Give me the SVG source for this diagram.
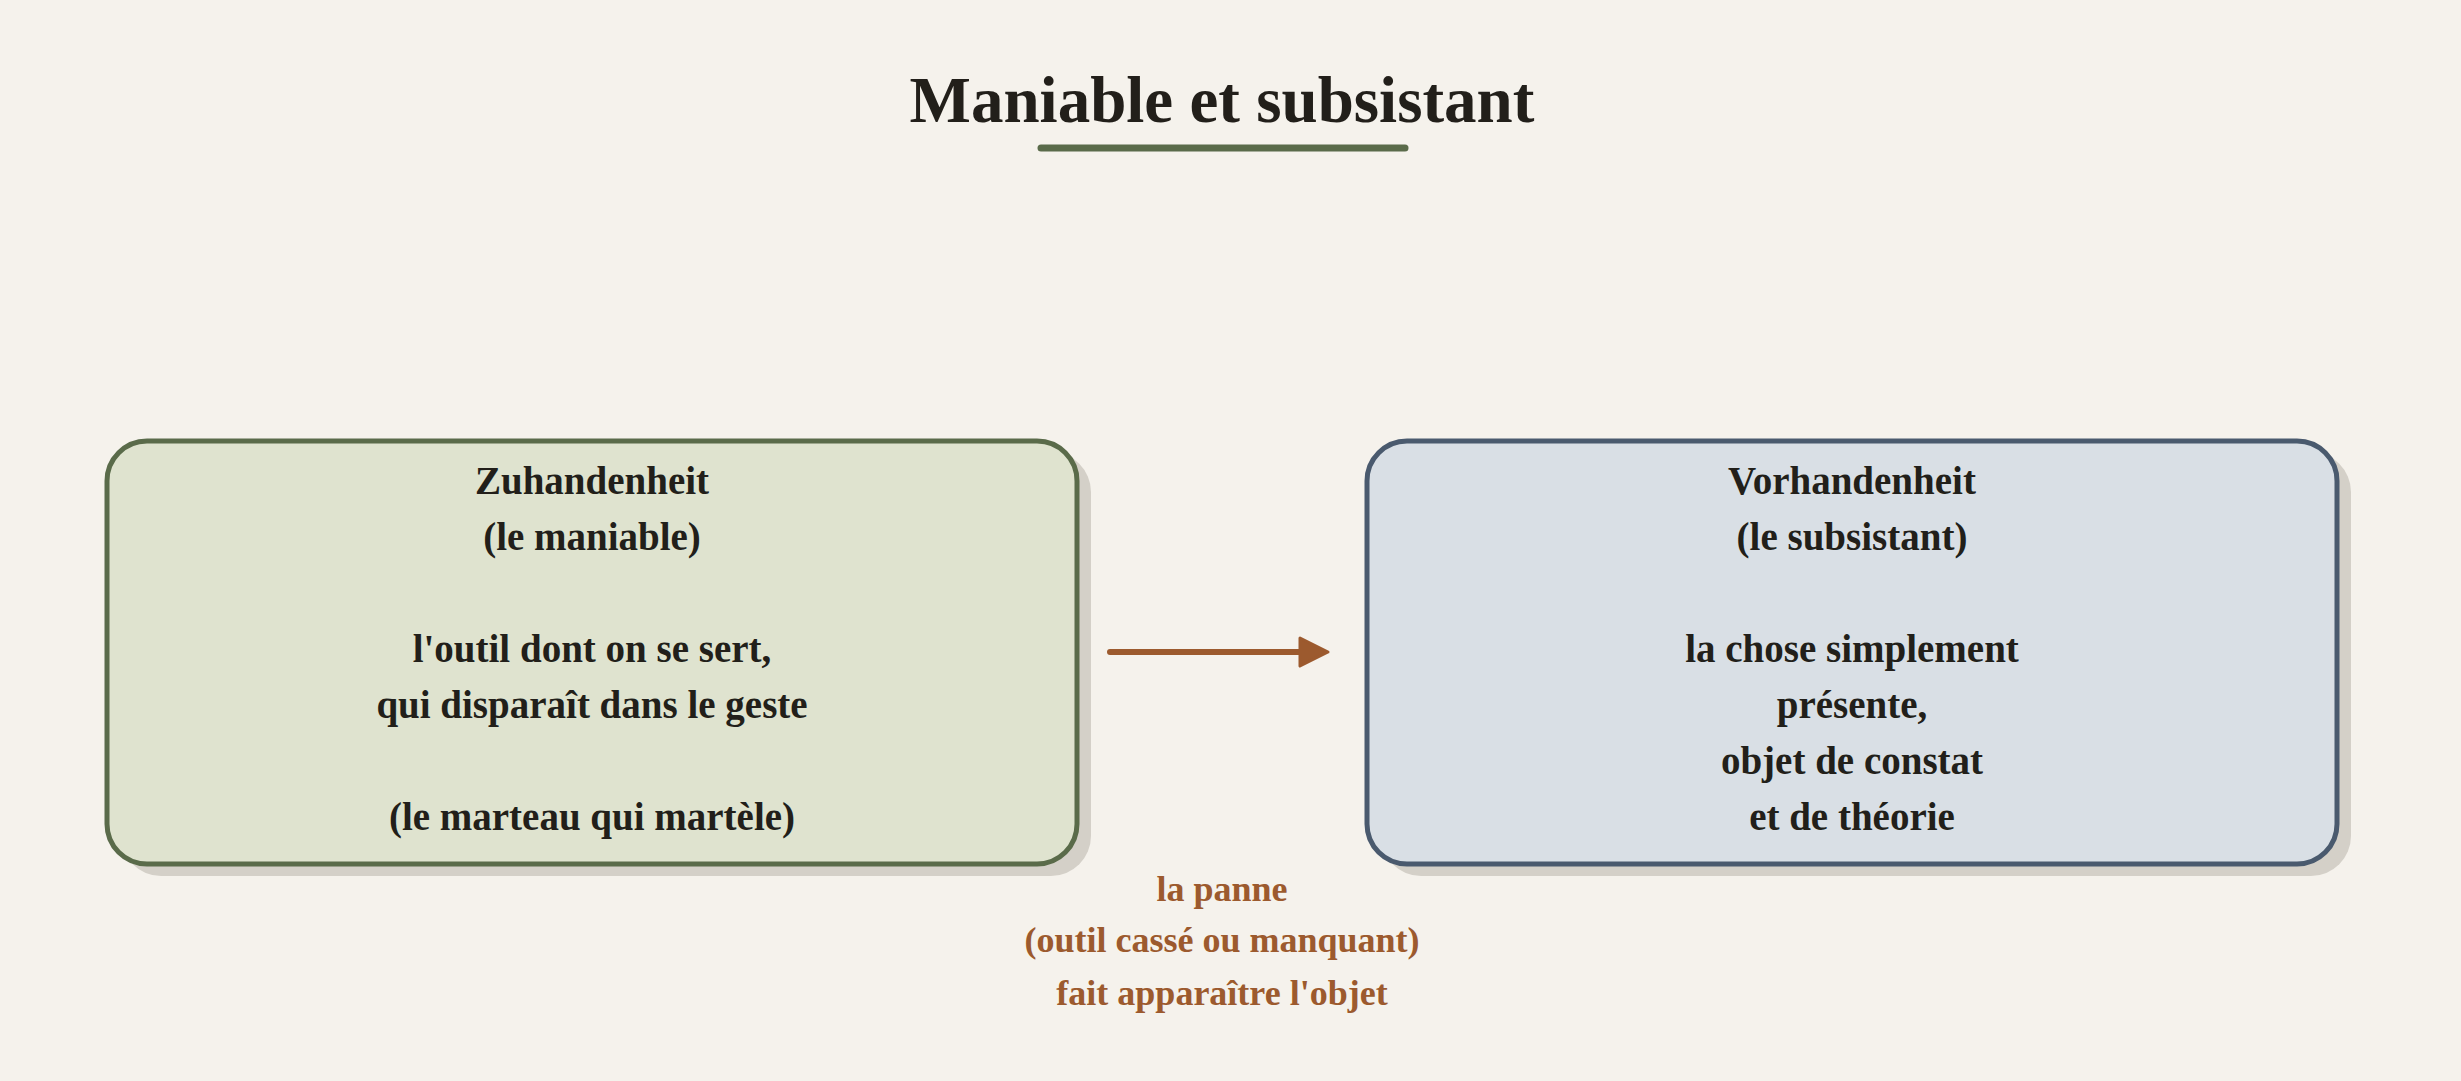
<svg xmlns="http://www.w3.org/2000/svg" width="2461" height="1081" viewBox="0 0 2461 1081">
<defs>
<style>
.bg{fill:#f5f2ec}
.shadow{fill:#d4d0c8}
.txt{font-family:"Liberation Serif","DejaVu Serif",serif;font-weight:bold;fill:#221f1a;text-anchor:middle}
.box{font-size:39px}
.title{font-size:65px}
.note{font-family:"Liberation Serif","DejaVu Serif",serif;font-weight:bold;fill:#9c5a2e;text-anchor:middle;font-size:36px}
</style>
<marker id="arrow" markerWidth="34" markerHeight="34" refX="8" refY="17" orient="auto" markerUnits="userSpaceOnUse" viewBox="0 0 34 34">
<path d="M3,3 L31,17 L3,31 Z" fill="#9c5a2e" stroke="#9c5a2e" stroke-width="3" stroke-linejoin="round"/>
</marker>
</defs>
<rect class="bg" x="0" y="0" width="2461" height="1081"/>
<g id="title">
<text class="txt title" x="1222" y="122">Maniable et subsistant</text>
<line x1="1041" y1="148" x2="1405" y2="148" stroke="#5a6b4a" stroke-width="7" stroke-linecap="round"/>
</g>
<g id="node-zuhandenheit">
<rect class="shadow" x="121" y="452" width="970" height="424" rx="40"/>
<rect x="107" y="441" width="970" height="423" rx="40" fill="#dfe3cf" stroke="#5a6b4a" stroke-width="5"/>
<text class="txt box" x="592" y="494">Zuhandenheit</text>
<text class="txt box" x="592" y="550">(le maniable)</text>
<text class="txt box" x="592" y="662">l'outil dont on se sert,</text>
<text class="txt box" x="592" y="718">qui disparaît dans le geste</text>
<text class="txt box" x="592" y="830">(le marteau qui martèle)</text>
</g>
<g id="node-vorhandenheit">
<rect class="shadow" x="1381" y="452" width="970" height="424" rx="40"/>
<rect x="1367" y="441" width="970" height="423" rx="40" fill="#d9dfe5" stroke="#4a5a6e" stroke-width="5"/>
<text class="txt box" x="1852" y="494">Vorhandenheit</text>
<text class="txt box" x="1852" y="550">(le subsistant)</text>
<text class="txt box" x="1852" y="662">la chose simplement</text>
<text class="txt box" x="1852" y="718">présente,</text>
<text class="txt box" x="1852" y="774">objet de constat</text>
<text class="txt box" x="1852" y="830">et de théorie</text>
</g>
<g id="connectors">
<line x1="1110" y1="652" x2="1305" y2="652" stroke="#9c5a2e" stroke-width="6" stroke-linecap="round" marker-end="url(#arrow)"/>
<text class="note" x="1222" y="901">la panne</text>
<text class="note" x="1222" y="952">(outil cassé ou manquant)</text>
<text class="note" x="1222" y="1005">fait apparaître l'objet</text>
</g>
</svg>
